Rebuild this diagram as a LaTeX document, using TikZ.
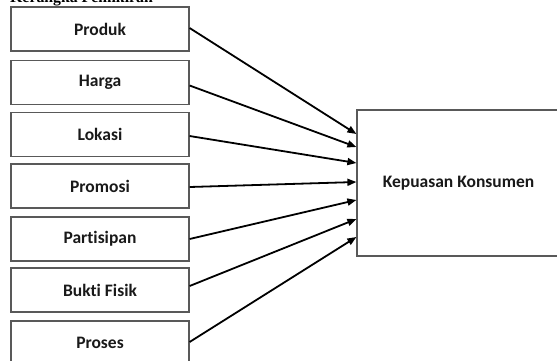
\documentclass[tikz,border=0pt]{standalone}
\usepackage{fontspec}
\setmainfont{Carlito}[RawFeature={-liga}]
\newfontfamily\titlefont{Liberation Serif}
\usetikzlibrary{arrows.meta}
\tikzset{
  varbox/.style={draw=black!65, line width=1.2pt, minimum width=178pt, minimum height=44pt, inner sep=0pt,
    font=\fontsize{17.5}{20}\selectfont\bfseries, text=black!90},
  bigbox/.style={draw=black!65, line width=1.2pt, minimum width=203pt, minimum height=146pt, inner sep=0pt,
    font=\fontsize{17.5}{20}\selectfont\bfseries, text=black!90},
  arr/.style={draw=black, line width=1.8pt, -{Triangle[length=9pt,width=7pt]}},
  titletext/.style={anchor=base west, inner sep=0pt, font=\titlefont\fontsize{15.8}{18}\selectfont\bfseries}
}
\begin{document}
\begin{tikzpicture}[x=1pt,y=1pt]
\useasboundingbox (0,0) rectangle (557,-360);
\node[titletext] (title) at (10,-2) {Kerangka Pemikiran};
\node[varbox] (p1) at (100,-29) {Produk};
\node[varbox] (p2) at (100,-82.5) {Harga};
\node[varbox] (p3) at (100,-134.5) {Lokasi};
\node[varbox] (p4) at (100,-186) {Promosi};
\node[varbox] (p5) at (100,-239) {Partisipan};
\node[varbox] (p6) at (100,-290) {Bukti Fisik};
\node[varbox] (p7) at (100,-343) {Proses};
\node[bigbox] (k) at (458.5,-183) {Kepuasan Konsumen};
\draw[arr] ([yshift=1pt]p1.east) -- ([yshift=49pt]k.west);
\draw[arr] ([yshift=-3pt]p2.east) -- ([yshift=36pt]k.west);
\draw[arr] ([yshift=-1.5pt]p3.east) -- ([yshift=20pt]k.west);
\draw[arr] ([yshift=-1pt]p4.east) -- ([yshift=1pt]k.west);
\draw[arr] (p5.east) -- ([yshift=-17pt]k.west);
\draw[arr] ([yshift=4pt]p6.east) -- ([yshift=-36pt]k.west);
\draw[arr] ([yshift=1pt]p7.east) -- ([yshift=-54pt]k.west);
\end{tikzpicture}
\end{document}
